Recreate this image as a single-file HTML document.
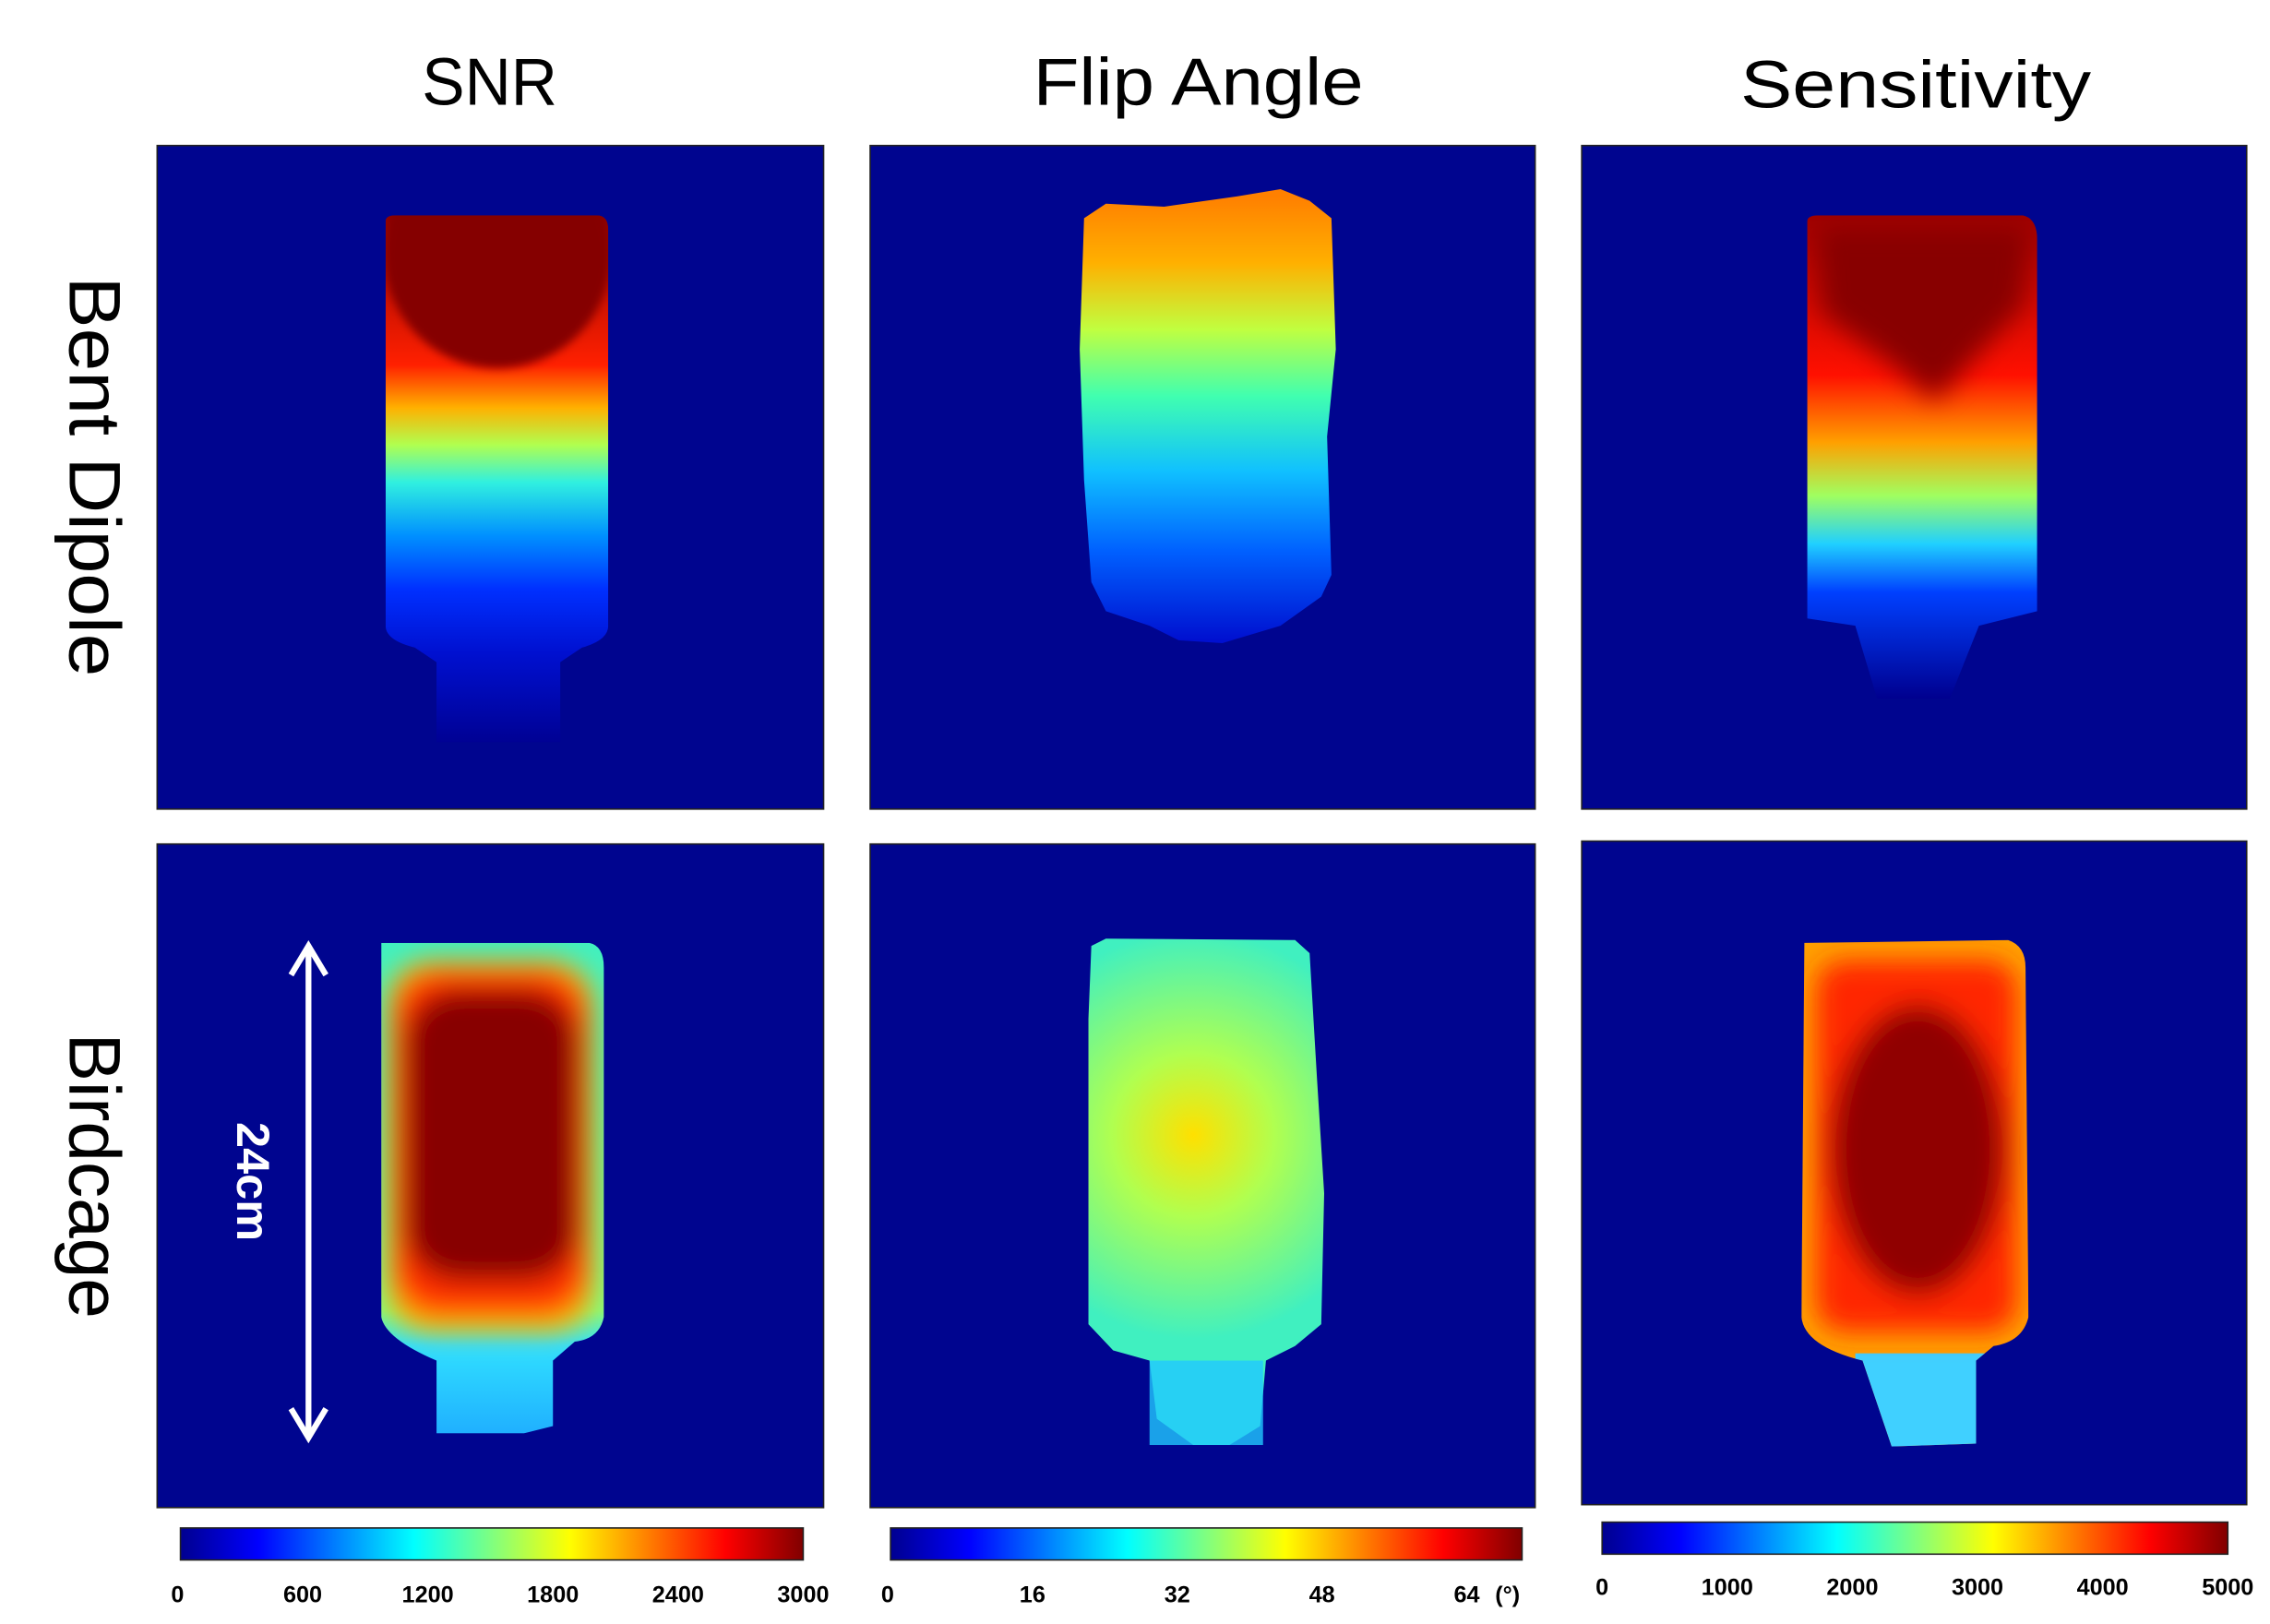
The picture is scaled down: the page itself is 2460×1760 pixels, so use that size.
<!DOCTYPE html>
<html><head><meta charset="utf-8">
<style>
html,body{margin:0;padding:0;background:#fff;}
svg{display:block;}
text{font-family:"Liberation Sans",sans-serif;}
</style></head>
<body>
<svg id="fig" width="2460" height="1760" viewBox="0 0 1560 1116" preserveAspectRatio="none" xmlns="http://www.w3.org/2000/svg">
<defs>
  <linearGradient id="jet" x1="0" x2="1" y1="0" y2="0">
    <stop offset="0" stop-color="#00008f"/><stop offset="0.125" stop-color="#0000ff"/>
    <stop offset="0.375" stop-color="#00ffff"/><stop offset="0.625" stop-color="#ffff00"/>
    <stop offset="0.875" stop-color="#ff0000"/><stop offset="1" stop-color="#800000"/>
  </linearGradient>
  <linearGradient id="g11" x1="0" x2="0" y1="148" y2="515" gradientUnits="userSpaceOnUse">
    <stop offset="0" stop-color="#900000"/><stop offset="0.28" stop-color="#ff2000"/>
    <stop offset="0.36" stop-color="#ffb000"/><stop offset="0.43" stop-color="#b0ff50"/>
    <stop offset="0.5" stop-color="#30f0e0"/><stop offset="0.6" stop-color="#0090ff"/>
    <stop offset="0.7" stop-color="#0030ff"/><stop offset="0.82" stop-color="#0010d0"/>
    <stop offset="1" stop-color="#00008f"/>
  </linearGradient>
  <linearGradient id="g12" x1="0" x2="0" y1="135" y2="440" gradientUnits="userSpaceOnUse">
    <stop offset="0" stop-color="#ff8000"/><stop offset="0.15" stop-color="#ffb000"/>
    <stop offset="0.3" stop-color="#c0ff40"/><stop offset="0.45" stop-color="#40ffb0"/>
    <stop offset="0.62" stop-color="#10c0ff"/><stop offset="0.8" stop-color="#0060ff"/>
    <stop offset="1" stop-color="#0010d0"/>
  </linearGradient>
  <linearGradient id="g13" x1="0" x2="0" y1="148" y2="480" gradientUnits="userSpaceOnUse">
    <stop offset="0" stop-color="#a00000"/><stop offset="0.33" stop-color="#ff1000"/>
    <stop offset="0.47" stop-color="#ffa000"/><stop offset="0.58" stop-color="#a0ff60"/>
    <stop offset="0.68" stop-color="#20d0ff"/><stop offset="0.78" stop-color="#0040ff"/>
    <stop offset="1" stop-color="#00008f"/>
  </linearGradient>
  <radialGradient id="g22" cx="820" cy="780" r="140" gradientUnits="userSpaceOnUse">
    <stop offset="0" stop-color="#ffe000"/><stop offset="0.4" stop-color="#b0ff50"/>
    <stop offset="1" stop-color="#40f0c0"/>
  </radialGradient>
  <linearGradient id="g21" x1="0" x2="0" y1="648" y2="985" gradientUnits="userSpaceOnUse">
    <stop offset="0" stop-color="#40f0c0"/><stop offset="0.75" stop-color="#80ff80"/>
    <stop offset="0.82" stop-color="#30e0ff"/><stop offset="1" stop-color="#20b0ff"/>
  </linearGradient>
  <filter id="blur" x="-20%" y="-20%" width="140%" height="140%"><feGaussianBlur stdDeviation="9"/></filter>
  <filter id="blur2" x="-20%" y="-20%" width="140%" height="140%"><feGaussianBlur stdDeviation="3"/></filter>
  <clipPath id="c11"><path d="M265,152 Q265,148 272,148 L410,148 Q418,148 418,158 L418,430 Q418,440 400,445 L385,455 L385,510 L300,510 L300,455 L285,445 Q265,440 265,430 Z"/></clipPath>
  <clipPath id="c13"><path d="M1242,152 Q1242,148 1250,148 L1390,148 Q1400,150 1400,165 L1400,420 L1360,430 L1340,480 L1290,480 L1275,430 L1242,425 Z"/></clipPath>
  <clipPath id="c21"><path d="M262,648 L405,648 Q415,650 415,665 L415,905 Q412,920 395,922 L380,935 L380,980 L360,985 L300,985 L300,935 Q265,920 262,905 Z"/></clipPath>
  <clipPath id="c23"><path d="M1240,648 L1380,646 Q1392,650 1392,665 L1394,905 Q1390,922 1370,925 L1358,935 L1358,992 L1300,994 L1280,935 Q1240,925 1238,905 Z"/></clipPath>
</defs>

<!-- titles -->
<text x="290" y="72" font-size="46" textLength="93" lengthAdjust="spacingAndGlyphs">SNR</text>
<text x="710" y="72" font-size="46" textLength="227" lengthAdjust="spacingAndGlyphs">Flip Angle</text>
<text x="1196" y="74" font-size="46" textLength="241" lengthAdjust="spacingAndGlyphs">Sensitivity</text>
<text transform="translate(48,190) rotate(90)" font-size="50" textLength="275" lengthAdjust="spacingAndGlyphs">Bent Dipole</text>
<text transform="translate(48,710) rotate(90)" font-size="50" textLength="196" lengthAdjust="spacingAndGlyphs">Birdcage</text>

<!-- panels -->
<g>
  <rect x="108" y="100" width="458" height="456" fill="#00058f" stroke="#222" stroke-width="1"/>
  <g clip-path="url(#c11)"><rect x="260" y="140" width="165" height="380" fill="url(#g11)"/>
    <ellipse cx="342" cy="175" rx="78" ry="78" fill="#850000" filter="url(#blur2)"/></g>
</g>
<g>
  <rect x="598" y="100" width="457" height="456" fill="#00058f" stroke="#222" stroke-width="1"/>
  <path d="M745,150 L760,140 L800,142 L850,135 L880,130 L900,138 L915,150 L918,240 L912,300 L915,395 L908,410 L880,430 L840,442 L810,440 L790,430 L760,420 L750,400 L745,330 L742,240 Z" fill="url(#g12)"/>
</g>
<g>
  <rect x="1087" y="100" width="457" height="456" fill="#00058f" stroke="#222" stroke-width="1"/>
  <g clip-path="url(#c13)"><rect x="1235" y="140" width="170" height="345" fill="url(#g13)"/>
    <path d="M1248,155 L1395,155 L1390,210 L1330,275 L1300,250 L1252,215 Z" fill="#880000" filter="url(#blur)"/></g>
</g>
<g>
  <rect x="108" y="580" width="458" height="456" fill="#00058f" stroke="#222" stroke-width="1"/>
  <g clip-path="url(#c21)">
    <rect x="255" y="640" width="170" height="350" fill="url(#g21)"/>
    <g filter="url(#blur)">
      <rect x="266" y="660" width="142" height="255" rx="30" fill="#ffb000"/>
      <rect x="270" y="666" width="134" height="238" rx="32" fill="#ff3000"/>
      <rect x="278" y="680" width="120" height="200" rx="38" fill="#880000"/>
    </g>
  </g>
</g>
<g>
  <rect x="598" y="580" width="457" height="456" fill="#00058f" stroke="#222" stroke-width="1"/>
  <path d="M750,650 L760,645 L890,646 L900,655 L905,740 L910,820 L908,910 L890,925 L870,935 L866,980 L845,993 L820,993 L795,975 L790,935 L765,928 L748,910 L748,700 Z" fill="url(#g22)"/>
  <rect x="790" y="935" width="78" height="58" fill="#20c8ff" opacity="0.8"/>
</g>
<g>
  <rect x="1087" y="578" width="457" height="456" fill="#00058f" stroke="#222" stroke-width="1"/>
  <g clip-path="url(#c23)">
    <rect x="1230" y="640" width="170" height="360" fill="#ffa000"/>
    <rect x="1275" y="930" width="90" height="70" fill="#40d0ff"/>
    <g filter="url(#blur)">
      <rect x="1248" y="660" width="138" height="255" rx="20" fill="#ff2800"/>
      <ellipse cx="1318" cy="790" rx="60" ry="100" fill="#900000"/>
    </g>
  </g>
</g>

<!-- 24cm arrow -->
<g stroke="#fff" stroke-width="4" fill="none">
  <line x1="212" y1="652" x2="212" y2="986"/>
  <polyline points="200,670 212,650 224,670"/>
  <polyline points="200,968 212,988 224,968"/>
</g>
<text transform="translate(163,812) rotate(90)" font-size="32" font-weight="bold" fill="#fff" text-anchor="middle">24cm</text>

<g id="bars"></g>
</svg>
<script>
const snrTicks = [0, 600, 1200, 1800, 2400, 3000];
const flipTicks = [0, 16, 32, 48, 64];
const sensTicks = [0, 1000, 2000, 3000, 4000, 5000];

const NS = "http://www.w3.org/2000/svg";
const g = document.getElementById('bars');
function mk(tag, attrs) { const e = document.createElementNS(NS, tag); for (const k in attrs) e.setAttribute(k, attrs[k]); g.appendChild(e); return e; }

const bars = [
  { name: 'snr', ticks: snrTicks, x0: 124, x1: 552, y: 1050, h: 22, ly: 1101, scale: v => 122 + (v - 0) / 3000 * 430 },
  { name: 'flip-angle', ticks: flipTicks, x0: 612, x1: 1046, y: 1050, h: 22, ly: 1101, scale: v => 610 + v / 16 * 99.5 },
  { name: 'sensitivity', ticks: sensTicks, x0: 1101, x1: 1531, y: 1046, h: 22, ly: 1096, scale: v => 1101 + v / 5000 * 430 }
];
bars.forEach(b => {
  const r = mk('rect', { x: b.x0, y: b.y, width: b.x1 - b.x0, height: b.h, fill: 'url(#jet)', stroke: '#222', 'stroke-width': 1 });
  
  
  b.ticks.forEach(v => {
    const t = mk('text', { x: b.scale(v), y: b.ly, 'font-size': 16, 'font-weight': 'bold', 'text-anchor': 'middle' });
    t.textContent = v;
    
    
  });
});
const u = mk('text', { x: 1036, y: 1101, 'font-size': 16, 'font-weight': 'bold', 'text-anchor': 'middle' });
u.textContent = '(°)';


</script>
</body></html>
